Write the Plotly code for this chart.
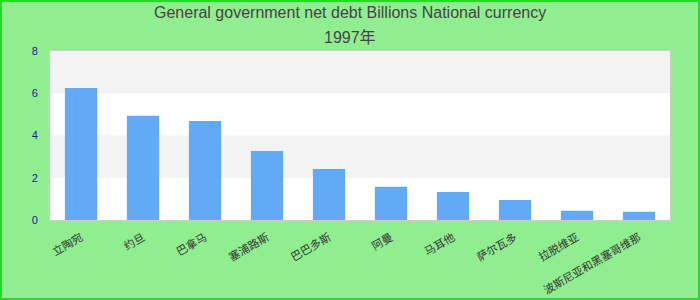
import plotly.graph_objects as go

categories = ["立陶宛", "约旦", "巴拿马", "塞浦路斯", "巴巴多斯", "阿曼", "马耳他", "萨尔瓦多", "拉脱维亚", "波斯尼亚和黑塞哥维那"]
values = [6.25, 4.93, 4.69, 3.27, 2.42, 1.57, 1.33, 0.95, 0.44, 0.39]
y_ticks = [0, 2, 4, 6, 8]
title_line1 = "General government net debt Billions National currency"
title_line2 = "1997年"

W, H = 700, 300
L, R, T, B = 50, 30, 51, 80
pw, ph = W - L - R, H - T - B

fig = go.Figure(go.Bar(x=categories, y=values, marker=dict(color="#62aaf5", line=dict(width=0)),
                       hoverinfo="x+y"))

shapes = []
for lo, hi in [(2, 4), (6, 8)]:
    shapes.append(dict(type="rect", xref="paper", yref="y", x0=0, x1=1, y0=lo, y1=hi,
                       fillcolor="#f3f3f3", line=dict(width=0), layer="below"))
# outer page border
shapes.append(dict(type="rect", xref="paper", yref="paper",
                   x0=(1 - L) / pw, x1=(W - 1 - L) / pw,
                   y0=-(B - 1) / ph, y1=1 + (T - 1) / ph,
                   line=dict(color="#22dd22", width=2), fillcolor="rgba(0,0,0,0)"))

def py(p):
    return 1 + (T - p) / ph

annotations = [
    dict(text=title_line1, xref="paper", yref="paper", x=0.5 - (L - R) / 2 / pw, y=py(13),
         xanchor="center", yanchor="middle", showarrow=False,
         font=dict(size=16, color="#444444")),
    dict(text=title_line2, xref="paper", yref="paper", x=0.5 - (L - R) / 2 / pw, y=py(37),
         xanchor="center", yanchor="middle", showarrow=False,
         font=dict(size=16, color="#444444")),
]

fig.update_layout(
    width=W, height=H,
    margin=dict(l=L, r=R, t=T, b=B, autoexpand=False),
    paper_bgcolor="#90ee90", plot_bgcolor="#ffffff",
    font=dict(family="Liberation Sans, Arial, Noto Sans CJK SC", size=12, color="#333"),
    bargap=0.48,
    showlegend=False,
    shapes=shapes,
    annotations=annotations,
    xaxis=dict(tickangle=-30, showgrid=False, showline=True, linecolor="#cccccc", mirror=True,
               ticks="", automargin=False, ticklabelstandoff=6,
               tickfont=dict(size=11, color="#333333", family="Noto Sans CJK SC")),
    yaxis=dict(range=[0, 8], tickvals=y_ticks, showgrid=False, zeroline=False, showline=True,
               linecolor="#cccccc", mirror=True, ticks="", ticklen=0, automargin=False,
               ticklabelstandoff=9,
               tickfont=dict(size=11, color="#1a1a9c")),
)

fig.write_html("out.html")
